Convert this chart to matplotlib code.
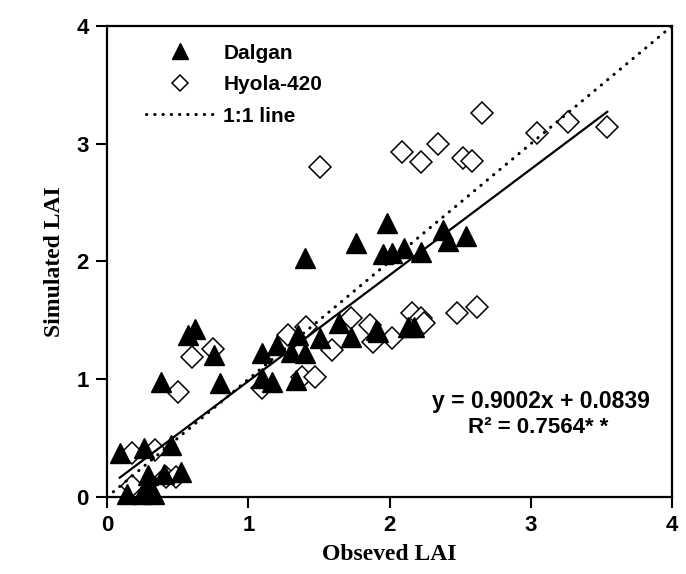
import numpy as np
import matplotlib.pyplot as plt

# Observed vs simulated LAI for the two cultivars
dalgan_obs = [0.09, 0.26, 0.45, 0.29, 0.40, 0.52, 0.14, 0.25, 0.33, 0.28,
              0.62, 0.57, 0.76, 0.38, 0.80,
              1.10, 1.20, 1.30, 1.35, 1.40, 1.51, 1.64, 1.73, 1.90, 1.10, 1.17, 1.34,
              1.92, 2.13, 2.17,
              1.40, 1.76, 1.98, 1.95, 2.02, 2.10, 2.22, 2.38, 2.41, 2.54]
dalgan_sim = [0.37, 0.42, 0.44, 0.19, 0.20, 0.21, 0.03, 0.03, 0.03, 0.10,
              1.43, 1.38, 1.21, 0.98, 0.97,
              1.22, 1.29, 1.23, 1.38, 1.22, 1.35, 1.48, 1.36, 1.42, 1.01, 0.98, 0.99,
              1.40, 1.44, 1.44,
              2.03, 2.16, 2.33, 2.06, 2.07, 2.11, 2.08, 2.27, 2.17, 2.22]

hyola_obs = [0.18, 0.34, 0.42, 0.49, 0.18,
             0.60, 0.75, 0.50,
             1.28, 1.41, 1.59, 1.73, 1.86, 1.88, 1.10, 1.38, 1.47,
             2.16, 2.22, 2.24, 2.02, 2.48, 2.62,
             1.51, 2.09, 2.22, 2.34, 2.52, 2.58, 2.65,
             3.04, 3.26, 3.54]
hyola_sim = [0.37, 0.40, 0.17, 0.17, 0.09,
             1.19, 1.26, 0.89,
             1.38, 1.44, 1.25, 1.52, 1.46, 1.32, 0.93, 1.02, 1.02,
             1.56, 1.52, 1.48, 1.35, 1.56, 1.61,
             2.80, 2.93, 2.84, 3.00, 2.88, 2.85, 3.26,
             3.09, 3.18, 3.14]

slope = 0.9002
intercept = 0.0839
r2 = 0.7564

plt.rcParams['font.family'] = ['Liberation Sans', 'DejaVu Sans']

fig = plt.figure(figsize=(6.86, 5.74), dpi=100)
ax = fig.add_axes([0.156, 0.134, 0.824, 0.821])

ax.plot(dalgan_obs, dalgan_sim, linestyle='none', marker='^', markersize=14.5,
        color='black', label='Dalgan', zorder=3, clip_on=False)
ax.plot(hyola_obs, hyola_sim, linestyle='none', marker='D', markersize=11.5,
        markerfacecolor='white', markeredgecolor='black', markeredgewidth=1.1,
        label='Hyola-420', zorder=2, clip_on=False)

# 1:1 reference line
ax.plot([0, 4], [0, 4], color='black', linewidth=2.2, linestyle=(0, (0.1, 2.6)),
        dash_capstyle='round', label='1:1 line', zorder=4)

# fitted regression over the observed range
all_obs = np.array(dalgan_obs + hyola_obs)
xf = np.array([all_obs.min(), all_obs.max()])
ax.plot(xf, slope * xf + intercept, color='black', linewidth=1.6, zorder=4)

ax.text(0.768, 0.203, f'y = {slope:.4f}x + {intercept:.4f}', transform=ax.transAxes,
        ha='center', va='center', fontsize=16.5, fontweight='bold')
ax.text(0.763, 0.147, f'R² = {r2:.4f}* *', transform=ax.transAxes,
        ha='center', va='center', fontsize=16, fontweight='bold')

ax.set_xlim(0, 4)
ax.set_ylim(0, 4)
ax.set_xticks([0, 1, 2, 3, 4])
ax.set_yticks([0, 1, 2, 3, 4])
ax.tick_params(direction='out', length=8, width=1.5, labelsize=16, pad=5)
for lab in ax.get_xticklabels() + ax.get_yticklabels():
    lab.set_fontweight('bold')
for sp in ax.spines.values():
    sp.set_linewidth(1.6)

ax.set_xlabel('Obseved LAI', family='Liberation Serif', fontsize=17,
              fontweight='bold', labelpad=6)
ax.set_ylabel('Simulated LAI', family='Liberation Serif', fontsize=17,
              fontweight='bold', labelpad=8)

leg = ax.legend(loc='upper left', bbox_to_anchor=(0.035, 1.002), frameon=False,
                markerscale=0.75, handlelength=3.3, handletextpad=0.43,
                labelspacing=0.6, prop={'weight': 'bold', 'size': 15})

fig.savefig('out.png', dpi=100)
